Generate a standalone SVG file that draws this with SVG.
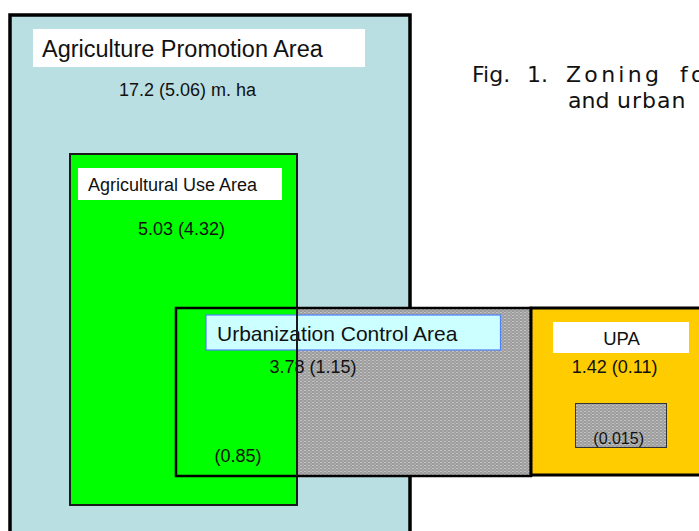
<svg xmlns="http://www.w3.org/2000/svg" xmlns:xlink="http://www.w3.org/1999/xlink" width="699" height="531" viewBox="0 0 699 531">
<style>
  text { font-family: "Liberation Sans", Arial, sans-serif; fill: #111; }
  .lbl { fill: #ffffff; stroke: none; }
  .val { font-size: 18px; }
  .title { font-family: "DejaVu Sans", Verdana, sans-serif; font-size: 22px; fill: #111; }
</style>
<defs>
  <pattern id="grain" width="4" height="3" patternUnits="userSpaceOnUse">
    <rect width="4" height="3" fill="#9c9c9c"/>
    <rect x="0" y="0" width="2" height="1" fill="#c4c4c4"/>
    <rect x="2" y="1.5" width="2" height="1" fill="#b8b8b8"/>
  </pattern>
</defs>

<g id="connectors"/>

<g id="apa">
  <rect x="10" y="15" width="400" height="530" fill="#BADFE2" stroke="#000" stroke-width="3.5"/>
  <rect class="lbl" x="33" y="29" width="332" height="38"/>
  <text x="42" y="57" font-size="23.5">Agriculture Promotion Area</text>
  <text class="val" x="119" y="96">17.2 (5.06) m. ha</text>
</g>

<g id="aua">
  <rect id="aua-box" x="70" y="154" width="227" height="351" fill="#00FF00" stroke="#1a1a1a" stroke-width="2"/>
  <rect class="lbl" x="78" y="168" width="204" height="32"/>
  <text x="88" y="190.5" font-size="18">Agricultural Use Area</text>
  <text class="val" x="138" y="235">5.03 (4.32)</text>
</g>

<g id="uca">
  <rect x="298" y="308" width="233" height="168" fill="url(#grain)"/>
  <rect x="176" y="308" width="355" height="168" fill="none" stroke="#000" stroke-width="2.5"/>
  <rect x="206" y="315" width="294.5" height="35" fill="#CCFFFF" stroke="#4F81FF" stroke-width="1.2"/>
  <text x="217" y="340.7" font-size="21">Urbanization Control Area</text>
  <text class="val" x="269.5" y="372.7">3.78 (1.15)</text>
  <text class="val" x="214.5" y="461.7">(0.85)</text>
</g>

<g id="aua-edge-overlay">
  <line x1="297" y1="308" x2="297" y2="476" stroke="#1a1a1a" stroke-width="2"/>
</g>

<g id="upa">
  <rect x="531" y="308" width="200" height="167" fill="#FFCC00" stroke="#000" stroke-width="3"/>
  <rect class="lbl" x="553" y="322" width="136" height="31"/>
  <text x="621.5" y="345" font-size="18.5" text-anchor="middle">UPA</text>
  <text class="val" x="571.7" y="373.3">1.42 (0.11)</text>
</g>

<g id="upa-inner">
  <rect x="575.5" y="403.5" width="91" height="44" fill="url(#grain)" stroke="#333" stroke-width="1"/>
  <text x="593.3" y="444" font-size="16">(0.015)</text>
</g>

<g id="title">
  <text class="title" y="81.7"><tspan x="472">Fig.</tspan><tspan x="527">1.</tspan><tspan x="566" letter-spacing="3.3">Zoning</tspan><tspan x="680" letter-spacing="3.3">fo</tspan></text>
  <text class="title" y="108"><tspan x="568">and</tspan><tspan x="617" letter-spacing="1">urban</tspan></text>
</g>
</svg>
